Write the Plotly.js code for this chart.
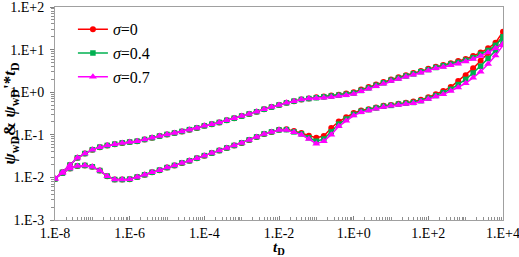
<!DOCTYPE html>
<html>
<head>
<meta charset="utf-8">
<script src="https://cdn.plot.ly/plotly-3.0.1.min.js"></script>
<style>html,body{margin:0;padding:0;background:#fff;}#chart{width:519px;height:257px;}</style>
</head>
<body>
<div id="chart"></div>
<script>
// dimensionless time t_D (0.2-decade steps)
const tD = [
  1e-8,1.585e-8,2.512e-8,3.981e-8,6.31e-8,
  1e-7,1.585e-7,2.512e-7,3.981e-7,6.31e-7,
  1e-6,1.585e-6,2.512e-6,3.981e-6,6.31e-6,
  1e-5,1.585e-5,2.512e-5,3.981e-5,6.31e-5,
  1e-4,1.585e-4,2.512e-4,3.981e-4,6.31e-4,
  1e-3,1.585e-3,2.512e-3,3.981e-3,6.31e-3,
  1e-2,1.585e-2,2.512e-2,3.981e-2,6.31e-2,
  0.1,0.1585,0.2512,0.3981,0.631,
  1,1.585,2.512,3.981,6.31,
  10,15.85,25.12,39.81,63.1,
  100,158.5,251.2,398.1,631,
  1000,1585,2512,3981,6310,
  10000
];

// pressure psi_wD: common part (t_D = 1e-8 ... 6.31e-2)
const pwdCommon = [0.0093,0.0132,0.0195,0.0288,0.0363,0.0447,0.0513,0.0562,0.0603,0.0646,
  0.0676,0.0708,0.0776,0.0851,0.0933,0.102,0.110,0.120,0.132,0.145,
  0.162,0.178,0.195,0.219,0.245,0.275,0.309,0.347,0.398,0.447,
  0.501,0.562,0.617,0.676,0.708];
// pressure psi_wD: t_D = 0.1 ... 1e4
const pwdTail_s0  = [0.759,0.794,0.832,0.871,0.933,1.00,1.15,1.32,1.51,1.74,2.00,2.24,2.51,2.82,3.16,3.55,3.98,4.37,4.79,5.37,6.03,7.08,8.51,10.7,14.5,26.3];
const pwdTail_s04 = [0.741,0.776,0.813,0.851,0.891,0.955,1.10,1.26,1.45,1.66,1.91,2.14,2.40,2.69,3.02,3.39,3.80,4.17,4.57,5.01,5.62,6.46,7.76,9.55,12.6,20.0];
const pwdTail_s07 = [0.724,0.741,0.776,0.813,0.851,0.912,1.05,1.20,1.38,1.58,1.82,2.04,2.29,2.57,2.88,3.24,3.63,3.89,4.27,4.68,5.25,6.03,7.08,8.51,10.7,13.8];

// derivative psi_wD'*t_D: common part (t_D = 1e-8 ... 6.31e-3)
const dpwdCommon = [0.0093,0.0126,0.0162,0.0186,0.0191,0.0178,0.0145,0.0107,0.0089,0.0089,
  0.0091,0.0102,0.0115,0.0132,0.0148,0.0170,0.0191,0.0219,0.0245,0.0282,
  0.0324,0.0372,0.0427,0.0490,0.0562,0.0646,0.0759,0.0891,0.105,0.117];
// derivative: t_D = 1e-2 ... 1e4
const dpwdTail_s0  = [0.132,0.135,0.123,0.110,0.0955,0.0851,0.0933,0.145,0.204,0.257,0.324,0.372,0.398,0.437,0.479,0.501,0.537,0.562,0.603,0.661,0.759,0.891,1.07,1.32,1.82,2.51,3.63,5.50,8.32,12.6,20.9];
const dpwdTail_s04 = [0.130,0.132,0.117,0.105,0.0851,0.0708,0.0794,0.117,0.178,0.234,0.302,0.355,0.389,0.427,0.468,0.490,0.525,0.550,0.575,0.631,0.724,0.832,0.977,1.17,1.51,2.00,2.82,4.07,6.17,9.55,16.2];
const dpwdTail_s07 = [0.129,0.129,0.115,0.100,0.0794,0.0617,0.0708,0.100,0.158,0.214,0.282,0.339,0.372,0.407,0.447,0.479,0.501,0.525,0.550,0.603,0.692,0.794,0.891,1.07,1.29,1.62,2.19,3.02,4.57,7.24,12.6];

const seriesNames = ['<i>σ</i>=0', '<i>σ</i>=0.4', '<i>σ</i>=0.7'];
const xTickVals = [1e-8,1e-6,1e-4,1e-2,1,1e2,1e4];
const xTickText = ['1.E-8','1.E-6','1.E-4','1.E-2','1.E+0','1.E+2','1.E+4'];
const yTickVals = [1e-3,1e-2,1e-1,1,10,100];
const yTickText = ['1.E-3','1.E-2','1.E-1','1.E+0','1.E+1','1.E+2'];

const colors = ['#ff0000', '#00b050', '#ff00ff'];
const symbols = ['circle', 'square', 'triangle-up'];
const msizes = [6, 5.5, 7];
const pwd = [pwdTail_s0, pwdTail_s04, pwdTail_s07].map(t => pwdCommon.concat(t));
const dpwd = [dpwdTail_s0, dpwdTail_s04, dpwdTail_s07].map(t => dpwdCommon.concat(t));

const traces = [];
for (let i = 0; i < 3; i++) {
  const style = {
    mode: 'lines+markers',
    line: {color: colors[i], width: 1.5},
    marker: {color: colors[i], symbol: symbols[i], size: msizes[i]},
    legendgroup: 'g' + i
  };
  traces.push(Object.assign({x: tD, y: pwd[i], name: seriesNames[i], showlegend: true}, style));
  traces.push(Object.assign({x: tD, y: dpwd[i], name: seriesNames[i], showlegend: false}, style));
}

const font = '"Liberation Serif", "Times New Roman", serif';
const layout = {
  width: 519, height: 257,
  margin: {l: 55, r: 16, t: 7, b: 37},
  paper_bgcolor: '#fff', plot_bgcolor: '#fff',
  font: {family: font, size: 14, color: '#000'},
  showlegend: true,
  legend: {x: 0.04, y: 0.975, xanchor: 'left', yanchor: 'top', bgcolor: 'rgba(0,0,0,0)',
           font: {family: font, size: 16, color: '#000'}, tracegroupgap: 0},
  xaxis: {
    type: 'log', range: [-8, 4], showgrid: false, zeroline: false,
    showline: true, linecolor: '#a0a0a0', linewidth: 1, mirror: true,
    tickmode: 'array', tickvals: xTickVals, ticktext: xTickText,
    ticks: 'inside', ticklen: 4, tickcolor: '#808080',
    minor: {ticks: 'inside', ticklen: 3, tickcolor: '#909090', dtick: 'D1', showgrid: false},
    tickfont: {family: font, size: 14, color: '#000'},
    ticklabelstandoff: 0,
    ticklabeloverflow: 'allow',
    title: {text: '<b><i>t</i><sub>D</sub></b>', font: {family: font, size: 15, color: '#000'}, standoff: 4}
  },
  yaxis: {
    type: 'log', range: [-3, 2], showgrid: false, zeroline: false,
    showline: true, linecolor: '#a0a0a0', linewidth: 1, mirror: true,
    tickmode: 'array', tickvals: yTickVals, ticktext: yTickText,
    ticks: 'outside', ticklen: 4, tickcolor: '#808080',
    minor: {ticks: 'outside', ticklen: 3, tickcolor: '#909090', dtick: 'D1', showgrid: false},
    tickfont: {family: font, size: 14, color: '#000'},
    ticklabelstandoff: 3,
    ticklabeloverflow: 'allow',
    title: {text: "<b><i>ψ</i><sub>wD</sub>& <i>ψ</i><sub>wD</sub>'*<i>t</i><sub>D</sub></b>", font: {family: font, size: 17, color: '#000'}, standoff: 2}
  }
};

Plotly.newPlot('chart', traces, layout, {displayModeBar: false, staticPlot: true});
</script>
</body>
</html>
